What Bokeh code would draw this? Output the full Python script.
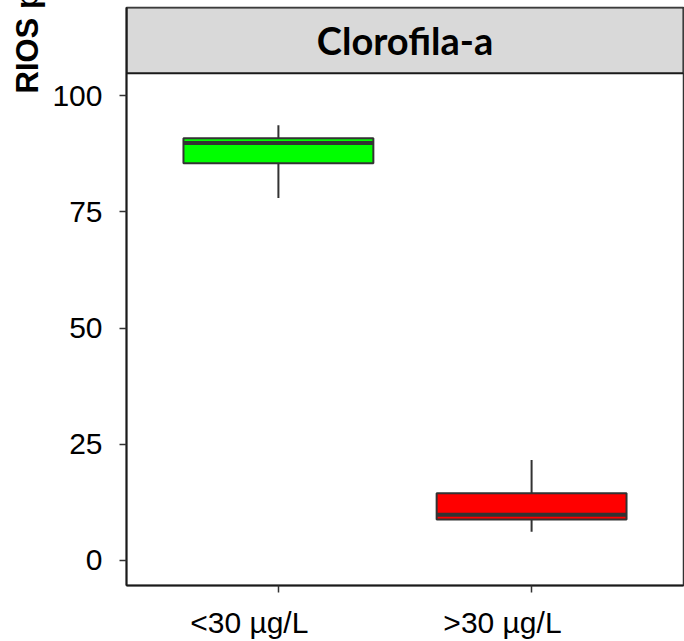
from bokeh.plotting import figure
from bokeh.models import Range1d, FixedTicker, LinearAxis, Title
from bokeh.core.properties import value
from bokeh.embed import file_html
from bokeh.resources import INLINE

# ---- data ----
categories = ["<30 µg/L", ">30 µg/L"]
whisker_low = [78.0, 6.15]
q1 = [85.5, 8.8]
median = [89.85, 9.8]
q3 = [90.85, 14.45]
whisker_high = [93.7, 21.6]
box_colors = ["#00ff00", "#ff0000"]
y_ticks = [0, 25, 50, 75, 100]
panel_title = "Clorofila-a"
y_label = "RIOS p"

# ---- layout constants ----
Y_MIN, Y_MAX = -5.43, 119.03
STRIP_BOTTOM = 104.85
X_MIN, X_MAX = 0.4, 2.6
BOX_W = 0.75
LABEL_SHIFT = 0.115   # tick labels sit a little left of their ticks in the reference

xs = [i + 1 for i in range(len(categories))]

p = figure(width=684, height=641, output_backend="svg", toolbar_location=None,
           x_range=Range1d(X_MIN, X_MAX), y_range=Range1d(Y_MIN, Y_MAX),
           min_border_left=126, min_border_right=1, min_border_top=7,
           min_border_bottom=54)
p.xgrid.visible = False
p.ygrid.visible = False
p.background_fill_color = "white"
p.border_fill_color = "white"
p.outline_line_color = "#333333"
p.outline_line_width = 1.5

# strip
p.quad(left=[X_MIN], right=[X_MAX], bottom=[STRIP_BOTTOM], top=[Y_MAX],
       fill_color="#d9d9d9", line_color="#1a1a1a", line_width=2)
p.text(x=[(X_MIN + X_MAX) / 2], y=[(STRIP_BOTTOM + Y_MAX) / 2], text=[panel_title],
       text_font=value("Lato"), text_font_style="bold", text_font_size="38px",
       text_align="center", text_baseline="middle", text_color="#000000")

# whiskers
p.segment(x0=xs, y0=whisker_low, x1=xs, y1=q1, line_color="#333333", line_width=2)
p.segment(x0=xs, y0=q3, x1=xs, y1=whisker_high, line_color="#333333", line_width=2)
# boxes
p.vbar(x=xs, width=BOX_W, bottom=q1, top=q3, fill_color=box_colors,
       line_color="#333333", line_width=2)
# medians
p.segment(x0=[x - BOX_W / 2 for x in xs], x1=[x + BOX_W / 2 for x in xs],
          y0=median, y1=median, line_color="#333333", line_width=4)

# axes
for ax in (p.xaxis[0], p.yaxis[0]):
    ax.minor_tick_line_color = None
    ax.major_tick_in = 0
    ax.major_tick_out = 7
    ax.major_tick_line_color = "#333333"
    ax.major_tick_line_width = 1.5
    ax.axis_line_color = "#1a1a1a"
    ax.axis_line_width = 2
    ax.major_label_text_font = "Liberation Sans"
    ax.major_label_text_font_size = "30px"
    ax.major_label_text_color = "#000000"

# x axis 1: ticks only
p.xaxis[0].ticker = FixedTicker(ticks=xs)
p.xaxis[0].major_label_overrides = {x: "" for x in xs}
p.xaxis[0].major_label_text_font_size = "0px"
p.xaxis[0].major_label_standoff = 0

# x axis 2: labels only
label_ticks = [x - LABEL_SHIFT for x in xs]
xlab = LinearAxis(ticker=FixedTicker(ticks=label_ticks),
                  major_label_overrides={t: c for t, c in zip(label_ticks, categories)},
                  axis_line_color=None, major_tick_line_color=None,
                  minor_tick_line_color=None, major_tick_in=0, major_tick_out=0,
                  major_label_standoff=13,
                  major_label_text_font="Liberation Sans",
                  major_label_text_font_size="30px", major_label_text_color="#000000")
p.add_layout(xlab, "below")

p.yaxis[0].ticker = FixedTicker(ticks=y_ticks)
p.yaxis[0].major_label_standoff = 17

p.add_layout(Title(text=y_label, align="left", offset=492, vertical_align="bottom",
                   text_font="Liberation Sans", text_font_style="bold",
                   text_font_size="31px", text_color="#000000"), "left")

open("out.html", "w").write(file_html(p, INLINE))
